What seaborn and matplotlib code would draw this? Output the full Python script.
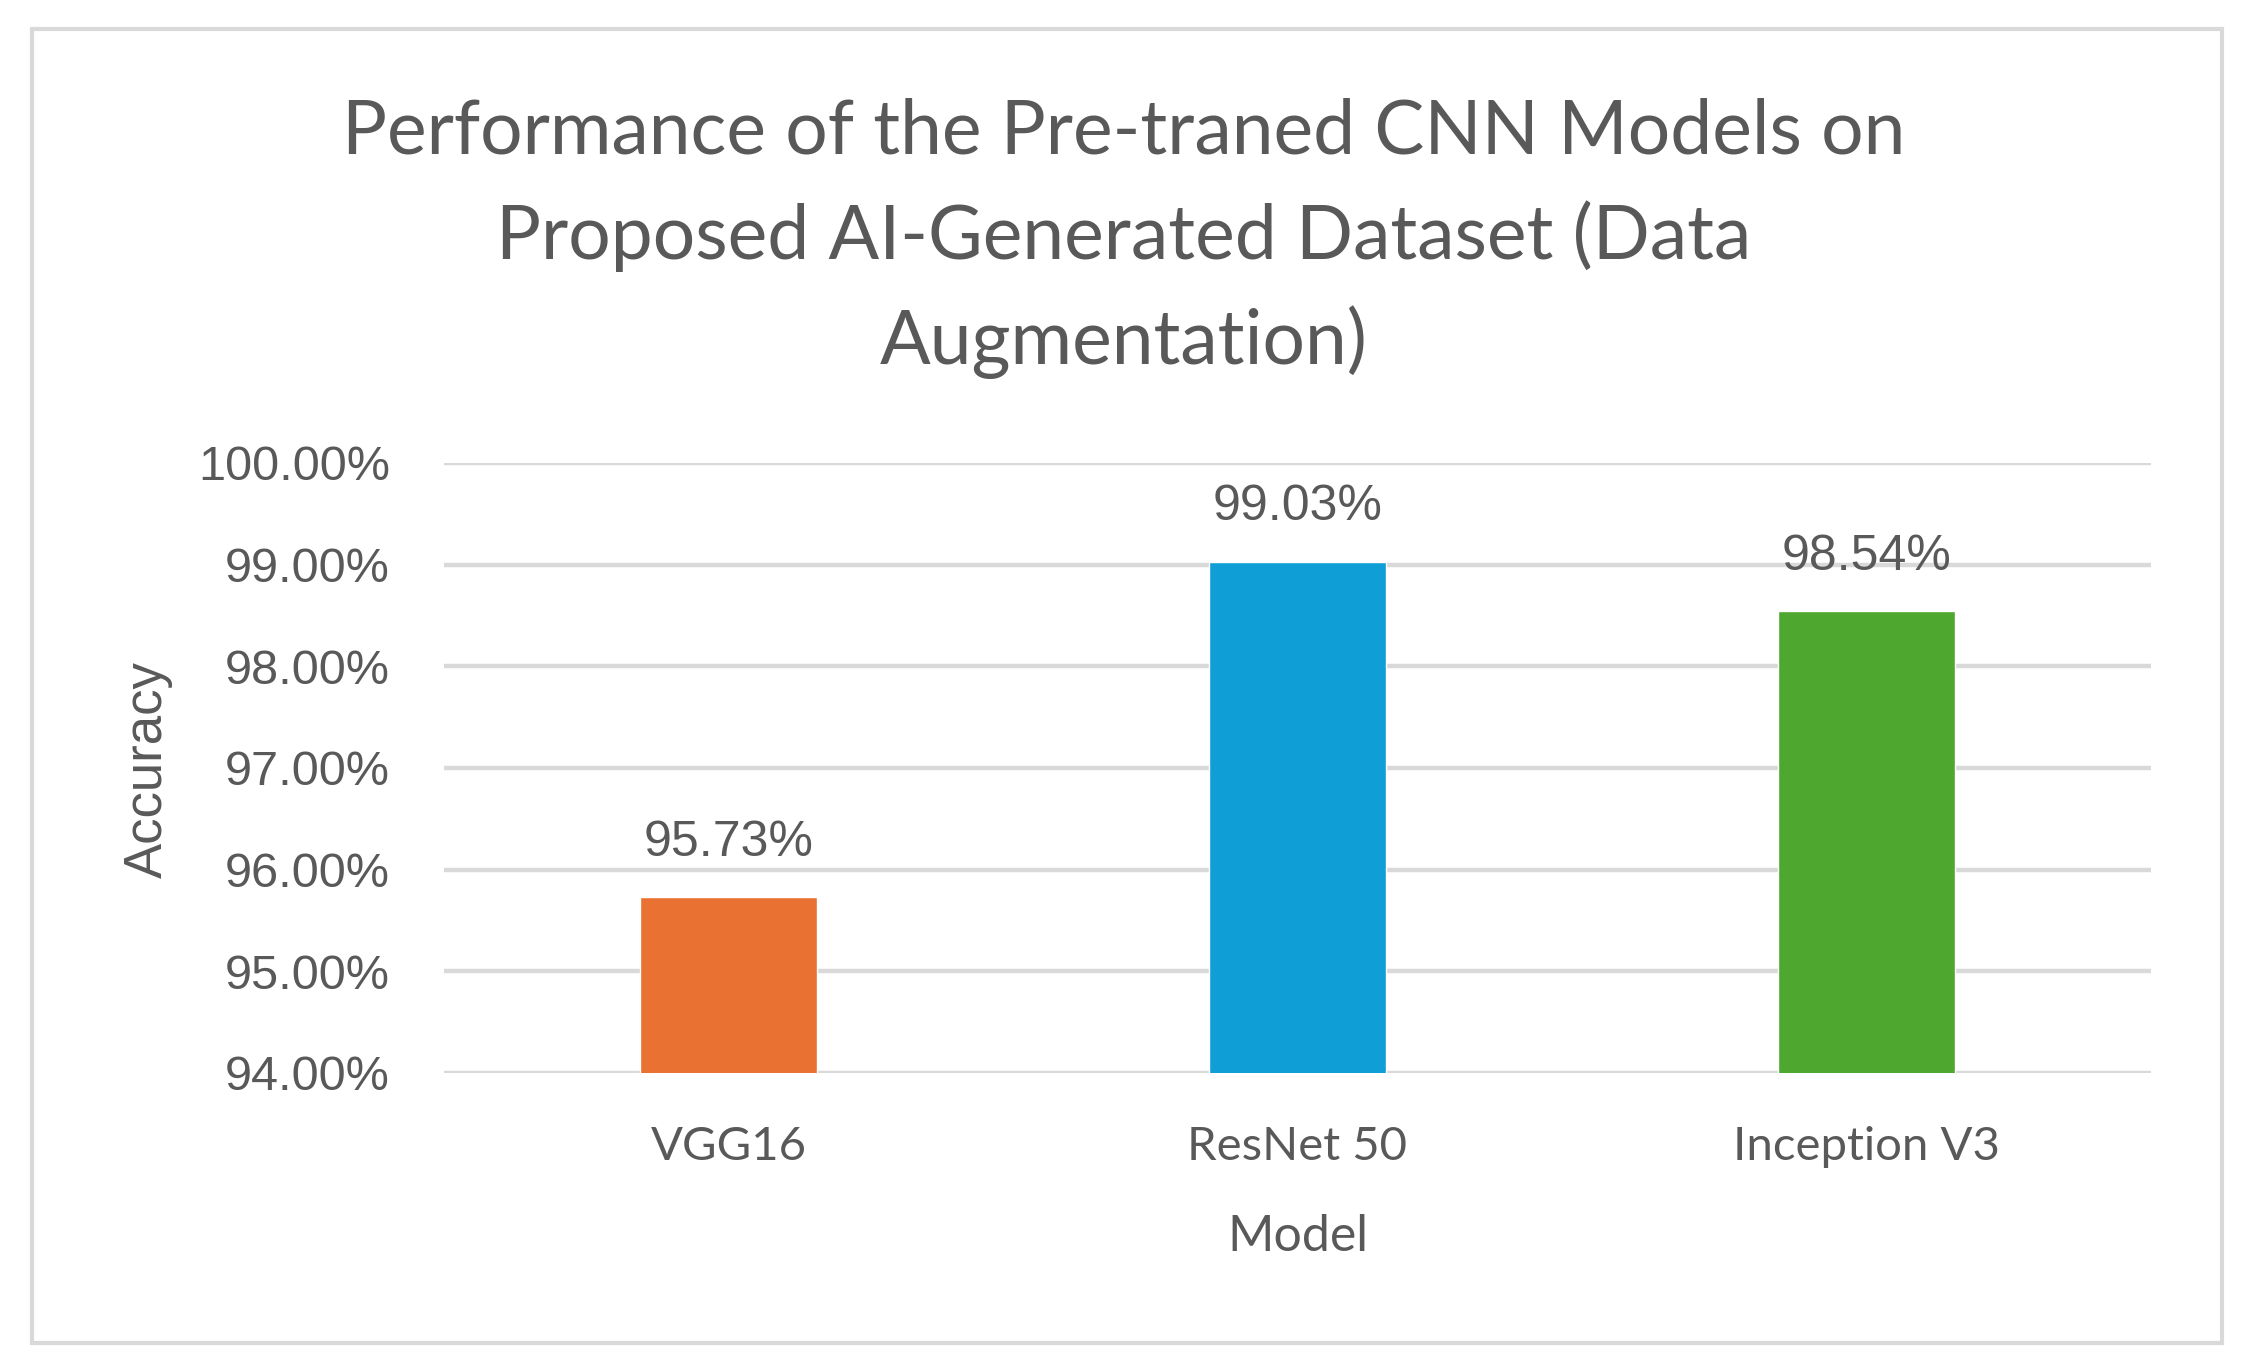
import numpy as np
import pandas as pd
import seaborn as sns
import matplotlib.pyplot as plt
from matplotlib.ticker import PercentFormatter, MultipleLocator
from matplotlib.patches import Rectangle

sns.set_theme(style="white")
plt.rcParams['font.family'] = ['Lato', 'DejaVu Sans']

# data
models = ['VGG16', 'ResNet 50', 'Inception V3']
accuracy = [95.73, 99.03, 98.54]
bar_colors = ['#E97132', '#0F9ED5', '#4EA72E']
title = ("Performance of the Pre-traned CNN Models on\n"
         "Proposed AI-Generated Dataset (Data\n"
         "Augmentation)")

text_gray = '#595959'
grid_gray = '#D9D9D9'

df = pd.DataFrame({'Model': models, 'Accuracy': accuracy})

fig = plt.figure(figsize=(22.48, 13.71), dpi=100)
ax = fig.add_axes([0.1975, 0.2174, 0.7593, 0.4449])

sns.barplot(data=df, x='Model', y='Accuracy', hue='Model', palette=bar_colors,
            width=0.31, legend=False, ax=ax, saturation=1, zorder=3)

ax.set_ylim(94, 100)
ax.set_xlim(-0.5, 2.5)
ax.yaxis.set_major_locator(MultipleLocator(1))
ax.yaxis.set_major_formatter(PercentFormatter(xmax=100, decimals=2))
ax.grid(axis='y', color=grid_gray, linewidth=3.2, zorder=0)
ax.grid(axis='x', visible=False)
for s in ax.spines.values():
    s.set_visible(False)

ax.tick_params(axis='y', length=0, pad=39, labelsize=35, labelcolor=text_gray)
ax.tick_params(axis='x', length=0, pad=38, labelsize=34, labelcolor=text_gray)
for lab in ax.get_yticklabels():
    lab.set_family(['Liberation Sans', 'DejaVu Sans'])

# value labels
for i, v in enumerate(accuracy):
    ax.annotate(f"{v:.2f}%", (i, v), xytext=(0, 39), textcoords='offset points',
                ha='center', va='center', fontsize=36, color=text_gray,
                family=['Liberation Sans', 'DejaVu Sans'])

ax.set_xlabel('Model', fontsize=36, color=text_gray)
ax.xaxis.set_label_coords(0.5, -0.269)
ax.xaxis.label.set_verticalalignment('center')
ax.set_ylabel('Accuracy', fontsize=38, color=text_gray,
              family=['Liberation Sans', 'DejaVu Sans'])
ax.yaxis.set_label_coords(-0.1734, 0.497)
ax.yaxis.label.set_verticalalignment('center')

fig.suptitle(title, x=0.5, y=0.826, va='center', ha='center', fontsize=54,
             color=text_gray, linespacing=1.57)

# chart-area border
fig.patches.append(Rectangle((32 / 2248, 1 - 1343 / 1371), (2222 - 32) / 2248, (1343 - 29) / 1371,
                             transform=fig.transFigure, fill=False,
                             edgecolor='#D9D9D9', linewidth=3))

fig.savefig('out.png', dpi=100, facecolor='white')
